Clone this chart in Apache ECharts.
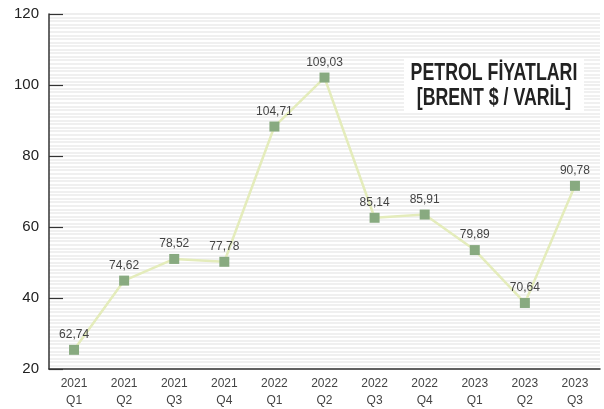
<!DOCTYPE html>
<html>
<head>
<meta charset="utf-8">
<script src="https://cdn.jsdelivr.net/npm/echarts@6/dist/echarts.min.js"></script>
<style>
  html, body { margin: 0; padding: 0; background: #fff; }
  #chart { width: 604px; height: 409px; }
</style>
</head>
<body>
<div id="chart"></div>
<script>
// quarters
const quarters = ['2021\nQ1', '2021\nQ2', '2021\nQ3', '2021\nQ4', '2022\nQ1', '2022\nQ2',
  '2022\nQ3', '2022\nQ4', '2023\nQ1', '2023\nQ2', '2023\nQ3'];
// plotted heights as drawn on the axis
const plotted = [25.4, 44.9, 51.0, 50.2, 88.3, 102.1, 62.6, 63.5, 53.5, 38.6, 71.6];
// printed price labels
const prices = ['62,74', '74,62', '78,52', '77,78', '104,71', '109,03',
  '85,14', '85,91', '79,89', '70,64', '90,78'];
const yTicks = [20, 40, 60, 80, 100, 120];

const chart = echarts.init(document.getElementById('chart'));

const option = {
  animation: false,
  backgroundColor: '#fff',
  grid: {
    left: 49,
    right: 4,
    top: 14,
    bottom: 40
  },
  xAxis: {
    type: 'category',
    data: quarters,
    boundaryGap: true,
    axisLine: { lineStyle: { color: '#333', width: 1.5 } },
    axisTick: { inside: true, length: 6, lineStyle: { color: '#333', width: 1.2 } },
    axisLabel: {
      color: '#444',
      fontFamily: 'Liberation Sans',
      fontSize: 12,
      lineHeight: 17,
      margin: 6
    }
  },
  yAxis: {
    type: 'value',
    min: yTicks[0],
    max: yTicks[yTicks.length - 1],
    interval: 20,
    axisLine: { show: true, lineStyle: { color: '#333', width: 1.5 } },
    axisTick: { show: true, inside: true, length: 14, lineStyle: { color: '#333', width: 1.2 } },
    axisLabel: {
      color: '#222',
      fontFamily: 'Liberation Sans',
      fontSize: 15,
      margin: 10
    },
    splitLine: { show: true, lineStyle: { color: '#e8e8e8', width: 1.5 } },
    minorTick: { show: false, splitNumber: 20 },
    minorSplitLine: { show: true, lineStyle: { color: '#ebebeb', width: 1.5 } }
  },
  graphic: [
    {
      type: 'rect',
      left: 404,
      top: 58,
      z: 100,
      shape: { width: 180, height: 54 },
      style: { fill: '#fff' }
    },
    {
      type: 'text',
      x: 494,
      y: 61,
      scaleX: 0.74,
      originX: 0,
      z: 101,
      style: {
        text: 'PETROL FİYATLARI\n[BRENT $ / VARİL]',
        font: 'bold 24px "Liberation Sans"',
        fill: '#222',
        align: 'center',
        verticalAlign: 'top',
        lineHeight: 25
      }
    }
  ],
  series: [
    {
      type: 'line',
      data: plotted,
      symbol: 'rect',
      symbolSize: 10,
      itemStyle: { color: '#88aa80' },
      lineStyle: { color: '#e4ecbb', width: 2.5 },
      label: {
        show: true,
        position: 'top',
        distance: 4,
        color: '#444',
        fontFamily: 'Liberation Sans',
        fontSize: 12,
        formatter: (p) => prices[p.dataIndex]
      },
      z: 3
    }
  ]
};

chart.setOption(option);
</script>
</body>
</html>
